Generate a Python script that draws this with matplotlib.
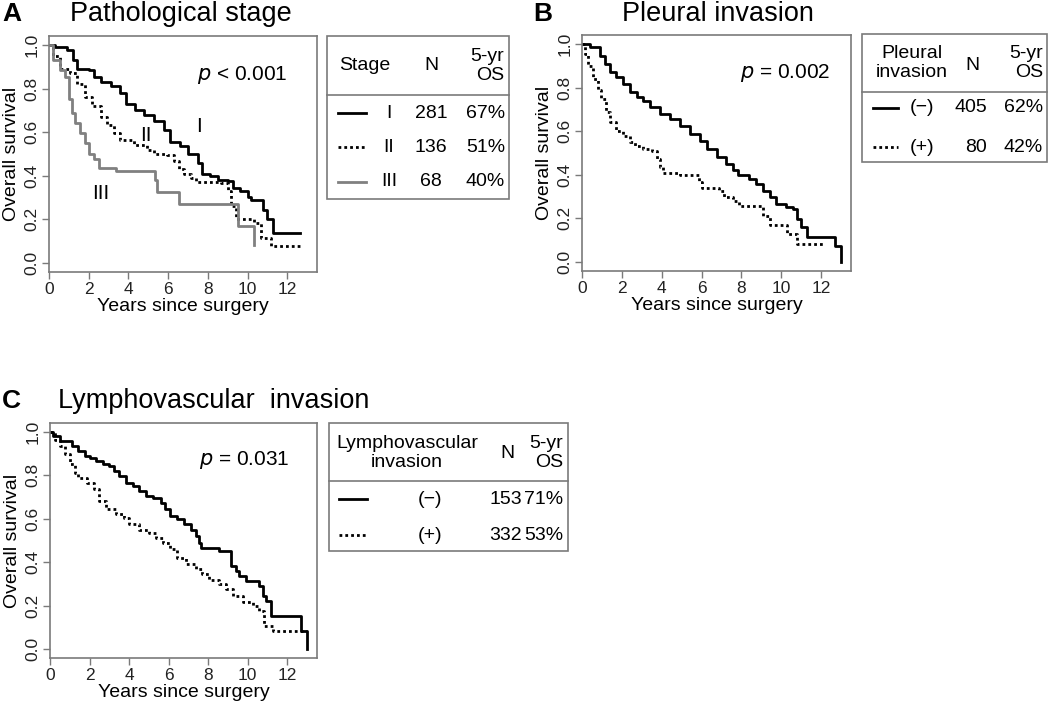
import matplotlib
matplotlib.use('Agg')
import matplotlib.pyplot as plt
from matplotlib.patches import Rectangle

plt.rcParams['font.family'] = ['Liberation Sans', 'DejaVu Sans']

# ---- data ----
# A: pathological stage
a_stage1_t = [0, 0.3, 0.9, 1.2, 1.4, 2.0, 2.25, 2.6, 3.1, 3.6, 3.9, 4.35, 4.8, 5.3, 5.8, 6.1,
              6.6, 7.0, 7.5, 7.7, 8.1, 8.5, 9.0, 9.25, 9.6, 10.0, 10.2, 10.8, 11.0, 11.3, 12.65]
a_stage1_s = [1.0, 0.99, 0.977, 0.93, 0.89, 0.885, 0.855, 0.83, 0.81, 0.78, 0.73, 0.70, 0.68, 0.65,
              0.61, 0.557, 0.535, 0.50, 0.46, 0.41, 0.40, 0.38, 0.375, 0.345, 0.33, 0.305, 0.29,
              0.245, 0.20, 0.137, 0.137]
a_stage2_t = [0, 0.2, 0.55, 1.05, 1.4, 1.8, 2.15, 2.6, 2.9, 3.25, 3.6, 4.3, 4.95, 5.3, 5.95, 6.3,
              6.55, 6.8, 7.15, 7.4, 8.65, 9.0, 9.15, 9.4, 10.35, 10.7, 11.2, 12.7]
a_stage2_s = [1.0, 0.95, 0.89, 0.87, 0.82, 0.76, 0.72, 0.67, 0.635, 0.595, 0.565, 0.54, 0.52, 0.50,
              0.495, 0.47, 0.43, 0.41, 0.39, 0.37, 0.365, 0.33, 0.26, 0.20, 0.185, 0.115, 0.077, 0.077]
a_stage3_t = [0, 0.2, 0.55, 0.8, 1.0, 1.15, 1.3, 1.55, 1.8, 2.0, 2.25, 2.5, 3.4, 5.35, 5.45, 6.55,
              9.5, 10.35, 10.35]
a_stage3_s = [1.0, 0.93, 0.885, 0.855, 0.75, 0.69, 0.64, 0.595, 0.55, 0.50, 0.475, 0.435, 0.42,
              0.38, 0.325, 0.27, 0.17, 0.084, 0.084]
a_stage_names = ['I', 'II', 'III']
a_n = ['281', '136', '68']
a_os = ['67%', '51%', '40%']

# B: pleural invasion
b_neg_t = [0, 0.4, 0.9, 1.15, 1.4, 1.7, 2.05, 2.4, 2.75, 3.05, 3.4, 3.9, 4.4, 4.9, 5.4, 5.9, 6.25,
           6.75, 7.25, 7.6, 7.85, 8.4, 8.75, 9.1, 9.45, 9.75, 10.25, 10.6, 10.8, 11.0, 11.3, 12.7,
           13.0, 13.0]
b_neg_s = [1.0, 0.985, 0.947, 0.91, 0.87, 0.847, 0.817, 0.78, 0.756, 0.74, 0.71, 0.68, 0.656, 0.626,
           0.588, 0.557, 0.52, 0.48, 0.45, 0.42, 0.397, 0.382, 0.36, 0.328, 0.298, 0.267, 0.252,
           0.244, 0.198, 0.16, 0.115, 0.073, 0.0, 0.0]
b_pos_t = [0, 0.13, 0.3, 0.55, 0.8, 0.97, 1.2, 1.4, 1.7, 2.05, 2.4, 2.65, 3.05, 3.5, 3.75, 3.9,
           4.05, 4.9, 5.85, 6.0, 6.9, 7.15, 7.6, 7.9, 9.1, 9.45, 10.3, 10.8, 12.2]
b_pos_s = [1.0, 0.954, 0.90, 0.84, 0.79, 0.748, 0.687, 0.64, 0.603, 0.58, 0.55, 0.534, 0.52, 0.51,
           0.473, 0.435, 0.41, 0.397, 0.366, 0.34, 0.325, 0.30, 0.28, 0.256, 0.21, 0.168, 0.13,
           0.084, 0.084]
b_groups = ['(\u2212)', '(+)']
b_n = ['405', '80']
b_os = ['62%', '42%']

# C: lymphovascular invasion
c_neg_t = [0, 0.17, 0.5, 1.1, 1.4, 1.75, 2.0, 2.35, 2.7, 3.0, 3.25, 3.5, 3.85, 4.2, 4.5, 4.85, 5.2,
           5.6, 5.8, 6.05, 6.4, 6.8, 7.15, 7.4, 7.55, 7.65, 8.55, 9.15, 9.4, 9.55, 9.9, 10.55, 10.75,
           10.9, 11.15, 12.7, 13.0, 13.0]
c_neg_s = [1.0, 0.98, 0.957, 0.934, 0.91, 0.888, 0.88, 0.865, 0.85, 0.842, 0.82, 0.796, 0.766, 0.75,
           0.727, 0.704, 0.697, 0.674, 0.643, 0.613, 0.597, 0.574, 0.55, 0.52, 0.49, 0.467, 0.452,
           0.383, 0.36, 0.337, 0.314, 0.29, 0.245, 0.222, 0.153, 0.083, 0.0, 0.0]
c_pos_t = [0, 0.25, 0.5, 0.75, 1.0, 1.25, 1.4, 1.85, 2.2, 2.5, 2.85, 3.35, 3.75, 4.0, 4.5, 5.0, 5.35,
           5.7, 6.05, 6.4, 6.9, 7.4, 7.7, 8.05, 8.55, 8.9, 9.25, 9.75, 10.25, 10.55, 10.8, 11.25, 13.0]
c_pos_s = [1.0, 0.965, 0.934, 0.896, 0.85, 0.81, 0.79, 0.766, 0.735, 0.68, 0.643, 0.62, 0.605, 0.574,
           0.55, 0.535, 0.513, 0.49, 0.46, 0.42, 0.39, 0.367, 0.345, 0.32, 0.30, 0.275, 0.245, 0.215,
           0.2, 0.176, 0.107, 0.084, 0.084]
c_groups = ['(\u2212)', '(+)']
c_n = ['153', '332']
c_os = ['71%', '53%']

# ---- styles ----
SPINE = '#7a7a7a'
SOLID = dict(color='black', lw=2.0, ls='-')
DOT = dict(color='black', lw=2.0, ls=(0, (1, 1.1)))
GREY = dict(color='#808080', lw=2.0, ls='-')

W, H = 1050, 711
fig = plt.figure(figsize=(W / 100, H / 100), dpi=100)

# overlay in pixel coordinates for titles and tables
ov = fig.add_axes([0, 0, 1, 1])
ov.set_xlim(0, W)
ov.set_ylim(H, 0)
ov.axis('off')


def km_axes(left, top, right, bottom):
    ax = fig.add_axes([left / W, 1 - bottom / H, (right - left) / W, (bottom - top) / H])
    ax.set_xlim(0, 13.5)
    ax.set_ylim(-0.041, 1.041)
    ax.set_xticks(range(0, 13, 2))
    ax.set_yticks([0, 0.2, 0.4, 0.6, 0.8, 1.0])
    ax.set_yticklabels(['0.0', '0.2', '0.4', '0.6', '0.8', '1.0'])
    for sp in ax.spines.values():
        sp.set_color(SPINE)
        sp.set_linewidth(1.2)
    ax.tick_params(direction='out', length=5, width=1.0, color=SPINE, labelsize=12.5,
                   labelcolor='#222222', pad=2)
    ax.tick_params(axis='y', labelrotation=90)
    for lab in ax.get_yticklabels():
        lab.set_va('center')
    ax.set_xlabel('Years since surgery', fontsize=14, labelpad=1)
    ax.set_ylabel('Overall survival', fontsize=14, labelpad=3)
    return ax


def table(x0, y0, x1, y1, yline):
    ov.add_patch(Rectangle((x0, y0), x1 - x0, y1 - y0, fill=False, ec=SPINE, lw=1.2))
    ov.plot([x0, x1], [yline, yline], color=SPINE, lw=1.2)


TS = 14  # table font size

# ---------- Panel A ----------
axA = km_axes(49, 36, 317, 272)
axA.step(a_stage1_t, a_stage1_s, where='post', **SOLID)
axA.step(a_stage2_t, a_stage2_s, where='post', **DOT)
axA.step(a_stage3_t, a_stage3_s, where='post', **GREY)
axA.text(7.54, 0.625, 'I', fontsize=15, ha='center', va='center')
axA.text(4.9, 0.583, 'II', fontsize=15, ha='center', va='center')
axA.text(2.63, 0.32, 'III', fontsize=15, ha='center', va='center')
axA.text(0.89, 0.835, '$\\it{p}$ < 0.001', transform=axA.transAxes, fontsize=15,
         ha='right', va='center')

ov.text(2, 14, 'A', fontsize=19, fontweight='bold', va='center')
ov.text(70, 14, 'Pathological stage', fontsize=19.5, va='center')

table(327, 36, 509, 199, 95)
ov.text(365, 66, 'Stage', fontsize=TS, ha='center', va='center')
ov.text(431, 66, 'N', fontsize=TS, ha='center', va='center')
ov.text(504, 66, '5-yr\nOS', fontsize=TS, ha='right', va='center', multialignment='right',
        linespacing=1.15)
rows_y = [113, 147, 182]
styles = [SOLID, DOT, GREY]
for y, st, name, n, os_ in zip(rows_y, styles, a_stage_names, a_n, a_os):
    ov.plot([338, 366], [y, y], **st)
    ov.text(389, y, name, fontsize=TS, ha='center', va='center')
    ov.text(431, y, n, fontsize=TS, ha='center', va='center')
    ov.text(466, y, os_, fontsize=TS, ha='left', va='center')

# ---------- Panel B ----------
axB = km_axes(582, 35, 851, 271)
axB.step(b_neg_t, b_neg_s, where='post', **SOLID)
axB.step(b_pos_t, b_pos_s, where='post', **DOT)
axB.text(0.922, 0.839, '$\\it{p}$ = 0.002', transform=axB.transAxes, fontsize=15,
         ha='right', va='center')

ov.text(533, 14, 'B', fontsize=19, fontweight='bold', va='center')
ov.text(622, 14, 'Pleural invasion', fontsize=19.5, va='center')

table(862, 34, 1047, 162, 92)
ov.text(912, 63, 'Pleural\ninvasion', fontsize=TS, ha='center', va='center', linespacing=1.15)
ov.text(972, 65, 'N', fontsize=TS, ha='center', va='center')
ov.text(1043, 63, '5-yr\nOS', fontsize=TS, ha='right', va='center', multialignment='right',
        linespacing=1.15)
for y, st, g, n, os_ in zip([108, 147], [SOLID, DOT], b_groups, b_n, b_os):
    ov.plot([873, 898], [y, y], **st)
    ov.text(922, y, g, fontsize=TS, ha='center', va='center')
    ov.text(987, y, n, fontsize=TS, ha='right', va='center')
    ov.text(1043, y, os_, fontsize=TS, ha='right', va='center')

# ---------- Panel C ----------
axC = km_axes(50, 423, 317, 658)
axC.step(c_neg_t, c_neg_s, where='post', **SOLID)
axC.step(c_pos_t, c_pos_s, where='post', **DOT)
axC.text(0.898, 0.843, '$\\it{p}$ = 0.031', transform=axC.transAxes, fontsize=15,
         ha='right', va='center')

ov.text(2, 401, 'C', fontsize=19, fontweight='bold', va='center')
ov.text(58, 401, 'Lymphovascular  invasion', fontsize=19.5, va='center')

table(329, 423, 568, 551, 481)
ov.text(407, 453, 'Lymphovascular\ninvasion', fontsize=TS, ha='center', va='center',
        linespacing=1.15)
ov.text(507, 453, 'N', fontsize=TS, ha='center', va='center')
ov.text(563, 453, '5-yr\nOS', fontsize=TS, ha='right', va='center', multialignment='right',
        linespacing=1.15)
for y, st, g, n, os_ in zip([499, 535], [SOLID, DOT], c_groups, c_n, c_os):
    ov.plot([339, 367], [y, y], **st)
    ov.text(430, y, g, fontsize=TS, ha='center', va='center')
    ov.text(506, y, n, fontsize=TS, ha='center', va='center')
    ov.text(524, y, os_, fontsize=TS, ha='left', va='center')

fig.savefig('out.png', dpi=100)
